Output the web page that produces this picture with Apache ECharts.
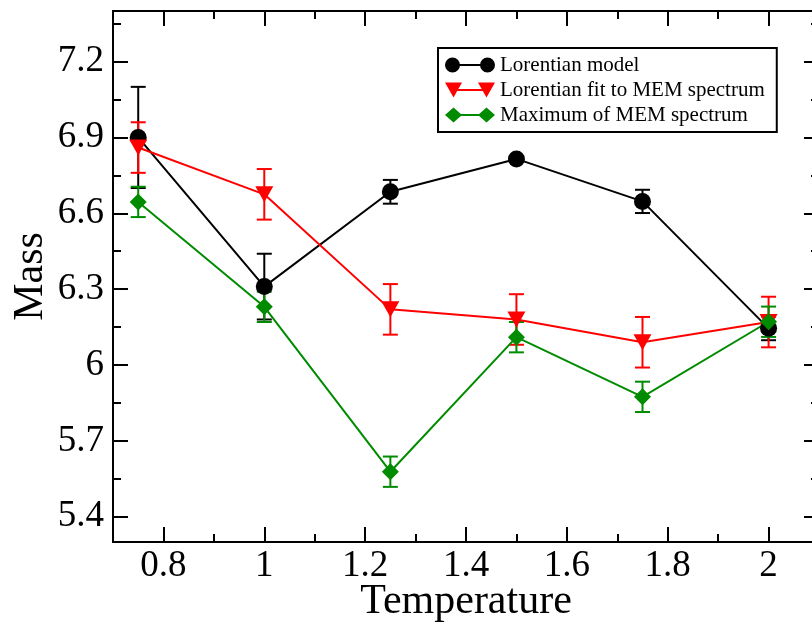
<!DOCTYPE html>
<html>
<head>
<meta charset="utf-8">
<script src="https://cdn.jsdelivr.net/npm/echarts@6/dist/echarts.min.js"></script>
<style>
html,body{margin:0;padding:0;background:#fff;}
#chart{width:812px;height:623px;}
</style>
</head>
<body>
<div id="chart"></div>
<script>
// ---- data ----
const temperatures = [0.75, 1.0, 1.25, 1.5, 1.75, 2.0];

const lorentzModel    = [6.90, 6.31, 6.685, 6.815, 6.647, 6.145];
const lorentzModelErr = [0.20, 0.13, 0.047, 0.010, 0.046, 0.047];

const lorentzFit      = [6.86, 6.675, 6.22, 6.18, 6.09, 6.17];
const lorentzFitErr   = [0.10, 0.10, 0.10, 0.10, 0.10, 0.10];

const memMaximum      = [6.645, 6.23, 5.578, 6.11, 5.874, 6.171];
const memMaximumErr   = [0.06, 0.06, 0.06, 0.06, 0.06, 0.06];

const seriesNames = ['Lorentian model', 'Lorentian fit to MEM spectrum', 'Maximum of MEM spectrum'];

const xMajorTicks = [0.8, 1.0, 1.2, 1.4, 1.6, 1.8, 2.0];
const xMinorTicks = [0.9, 1.1, 1.3, 1.5, 1.7, 1.9];
const yMajorTicks = [5.4, 5.7, 6.0, 6.3, 6.6, 6.9, 7.2];
const yMinorTicks = [5.55, 5.85, 6.15, 6.45, 6.75, 7.05, 7.35];

const xTitle = 'Temperature';
const yTitle = 'Mass';

// ---- chart ----
const FONT = 'Liberation Serif';
const colors = ['#000000', '#ff0000', '#008b00'];

function pts(vals) { return temperatures.map((t, i) => [t, vals[i]]); }
function errs(vals, e) { return temperatures.map((t, i) => [t, vals[i] - e[i], vals[i] + e[i]]); }

function errSeries(data, color) {
  return {
    type: 'custom',
    xAxisIndex: 0, yAxisIndex: 0,
    data: data,
    encode: { x: 0, y: [1, 2] },
    silent: true,
    renderItem: function (params, api) {
      const x = api.value(0), lo = api.value(1), hi = api.value(2);
      const a = api.coord([x, hi]), b = api.coord([x, lo]);
      const w = 7.5;
      const st = { stroke: color, lineWidth: 2 };
      return {
        type: 'group',
        children: [
          { type: 'line', shape: { x1: a[0], y1: a[1], x2: b[0], y2: b[1] }, style: st },
          { type: 'line', shape: { x1: a[0] - w, y1: a[1], x2: a[0] + w, y2: a[1] }, style: st },
          { type: 'line', shape: { x1: b[0] - w, y1: b[1], x2: b[0] + w, y2: b[1] }, style: st }
        ]
      };
    }
  };
}

function lineSeries(name, data, color, symbol, size, rotate) {
  return {
    type: 'line', name: name, data: data,
    xAxisIndex: 0, yAxisIndex: 0,
    symbol: symbol, symbolSize: size, symbolRotate: rotate || 0,
    showAllSymbol: true,
    lineStyle: { color: color, width: 2 },
    itemStyle: { color: color, opacity: 1 },
    emphasis: { disabled: true }
  };
}

const axisLineStyle = { show: true, lineStyle: { color: '#000', width: 2 } };

function xAx(pos, ticks, len, labels) {
  return {
    type: 'value', position: pos, min: 0.7, max: 2.1,
    axisLine: axisLineStyle,
    splitLine: { show: false },
    axisTick: { show: true, inside: true, length: len, customValues: ticks, lineStyle: { color: '#000', width: 2 } },
    axisLabel: labels ? { show: true, customValues: ticks, margin: 6, fontFamily: FONT, fontSize: 37, color: '#000' } : { show: false },
    name: labels ? xTitle : '',
    nameLocation: 'middle', nameGap: 39, nameMoveOverlap: false,
    nameTextStyle: { fontFamily: FONT, fontSize: 42, color: '#000' }
  };
}
function yAx(pos, ticks, len, labels) {
  return {
    type: 'value', position: pos, min: 5.3, max: 7.4,
    axisLine: axisLineStyle,
    splitLine: { show: false },
    axisTick: { show: true, inside: true, length: len, customValues: ticks, lineStyle: { color: '#000', width: 2 } },
    axisLabel: labels ? { show: true, customValues: ticks, margin: 9, fontFamily: FONT, fontSize: 37, color: '#000' } : { show: false },
    name: labels ? yTitle : '',
    nameLocation: 'middle', nameGap: 61, nameRotate: 90, nameMoveOverlap: false,
    nameTextStyle: { fontFamily: FONT, fontSize: 42, color: '#000' }
  };
}

const circlePath = 'path://M0,7.5 A7.5,7.5 0 1 1 15,7.5 A7.5,7.5 0 1 1 0,7.5 Z M7.5,6.5 L42.5,6.5 L42.5,8.5 L7.5,8.5 Z M35,7.5 A7.5,7.5 0 1 1 50,7.5 A7.5,7.5 0 1 1 35,7.5 Z';
const triPath = 'path://M0,0 L17,0 L8.5,15 Z M8.5,6.5 L41.5,6.5 L41.5,8.5 L8.5,8.5 Z M33,0 L50,0 L41.5,15 Z';
const diaPath = 'path://M0,7.5 L8.5,0 L17,7.5 L8.5,15 Z M8.5,6.5 L41.5,6.5 L41.5,8.5 L8.5,8.5 Z M33,7.5 L41.5,0 L50,7.5 L41.5,15 Z';

const chart = echarts.init(document.getElementById('chart'), null, { renderer: 'canvas' });
chart.setOption({
  animation: false,
  backgroundColor: '#fff',
  grid: { left: 113, top: 11, right: -7, bottom: 81, containLabel: false, outerBoundsMode: 'none' },
  xAxis: [
    xAx('bottom', xMajorTicks, 15, true),
    xAx('bottom', xMinorTicks, 8, false),
    xAx('top', xMajorTicks, 15, false),
    xAx('top', xMinorTicks, 8, false)
  ],
  yAxis: [
    yAx('left', yMajorTicks, 15, true),
    yAx('left', yMinorTicks, 8, false),
    yAx('right', yMajorTicks, 15, false),
    yAx('right', yMinorTicks, 8, false)
  ],
  legend: {
    orient: 'vertical',
    left: 438, top: 48,
    padding: [6.5, 12, 6.5, 7],
    itemWidth: 50, itemHeight: 15, itemGap: 4,
    symbolRotate: 0,
    borderColor: '#000', borderWidth: 2, backgroundColor: '#fff',
    selectedMode: false,
    itemStyle: { borderWidth: 0 },
    textStyle: { fontFamily: FONT, fontSize: 21, color: '#000' },
    data: [
      { name: seriesNames[0], icon: circlePath },
      { name: seriesNames[1], icon: triPath },
      { name: seriesNames[2], icon: diaPath }
    ]
  },
  series: [
    errSeries(errs(lorentzModel, lorentzModelErr), colors[0]),
    lineSeries(seriesNames[0], pts(lorentzModel), colors[0], 'circle', 17),
    errSeries(errs(lorentzFit, lorentzFitErr), colors[1]),
    lineSeries(seriesNames[1], pts(lorentzFit), colors[1], 'triangle', [18, 16], 180),
    errSeries(errs(memMaximum, memMaximumErr), colors[2]),
    lineSeries(seriesNames[2], pts(memMaximum), colors[2], 'diamond', [17, 17])
  ]
});
</script>
</body>
</html>
